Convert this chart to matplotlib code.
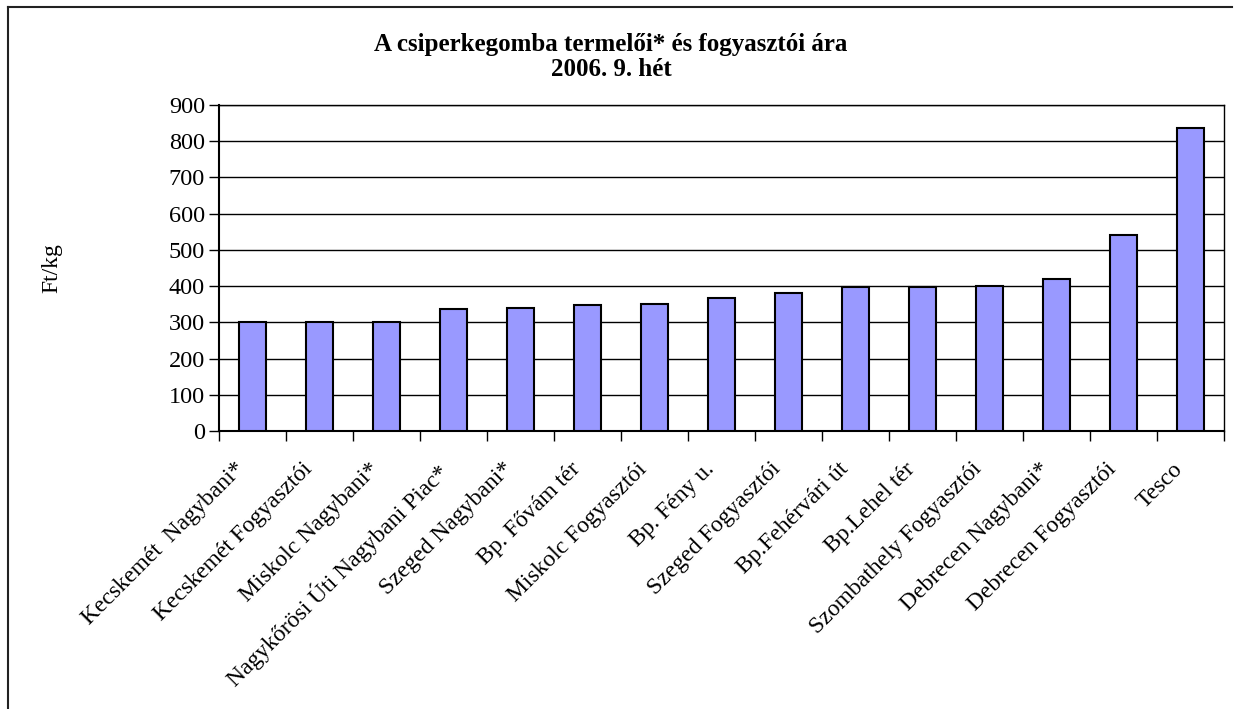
import matplotlib
matplotlib.use("Agg")
import matplotlib.pyplot as plt
import matplotlib.transforms as mtransforms
from matplotlib.lines import Line2D

categories = ["Kecskemét  Nagybani*", "Kecskemét Fogyasztói", "Miskolc Nagybani*",
              "Nagykőrösi Úti Nagybani Piac*", "Szeged Nagybani*", "Bp. Fővám tér",
              "Miskolc Fogyasztói", "Bp. Fény u.", "Szeged Fogyasztói", "Bp.Fehérvári út",
              "Bp.Lehel tér", "Szombathely Fogyasztói", "Debrecen Nagybani*",
              "Debrecen Fogyasztói", "Tesco"]
values = [300, 300, 300, 336, 340, 347, 350, 368, 380, 397, 397, 400, 420, 540, 836]
yticks = [0, 100, 200, 300, 400, 500, 600, 700, 800, 900]

plt.rcParams['font.family'] = ['Liberation Serif', 'DejaVu Serif']

W, H = 1234, 709
left_px, right_px, top_px, bottom_px = 219, 1224, 105, 431

fig = plt.figure(figsize=(W / 100, H / 100), dpi=100)
ax = fig.add_axes([left_px / W, 1 - bottom_px / H, (right_px - left_px) / W, (bottom_px - top_px) / H])

x = list(range(len(categories)))
ax.bar(x, values, width=0.41, color='#9999FF', edgecolor='black', linewidth=1.5, zorder=3)

ax.set_ylim(0, 900)
ax.set_xlim(-0.5, len(categories) - 0.5)
ax.set_yticks(yticks)
ax.set_yticklabels([str(v) for v in yticks], fontsize=17.5)
ax.yaxis.grid(True, color='black', linewidth=1)
ax.set_axisbelow(True)
ax.tick_params(axis='y', direction='out', length=7, width=1, pad=3)

ax.set_xticks(x)
ax.set_xticklabels(categories, rotation=45, ha='right', va='top',
                   rotation_mode='anchor', fontsize=17)
ax.tick_params(axis='x', which='major', length=0, pad=14)
ax.set_xticks([i + 0.5 for i in range(-1, len(categories))], minor=True)
ax.tick_params(axis='x', which='minor', direction='out', length=7, width=1)
offset = mtransforms.ScaledTranslation(-18 / 100, -8 / 100, fig.dpi_scale_trans)
for lab in ax.get_xticklabels():
    lab.set_transform(lab.get_transform() + offset)

for s in ax.spines.values():
    s.set_color('black')
    s.set_linewidth(1)
ax.spines['left'].set_linewidth(1.5)
ax.spines['bottom'].set_linewidth(1.5)

ax.set_ylabel('Ft/kg', fontsize=17)
ax.yaxis.set_label_coords((62 - left_px) / (right_px - left_px), 0.5)

fig.text(611 / W, 1 - 45 / H, 'A csiperkegomba termelői* és fogyasztói ára',
         ha='center', va='center', fontsize=18, fontweight='bold')
fig.text(611 / W, 1 - 69 / H, '2006. 9. hét',
         ha='center', va='center', fontsize=18, fontweight='bold')

# outer chart border (left and top visible)
fig.add_artist(Line2D([8 / W, 8 / W], [0, 1 - 7 / H], transform=fig.transFigure,
                      color='#222222', linewidth=1.5))
fig.add_artist(Line2D([8 / W, 1232 / W], [1 - 7 / H, 1 - 7 / H], transform=fig.transFigure,
                      color='#222222', linewidth=1.5))

fig.savefig('out.png', dpi=100, facecolor='white')
